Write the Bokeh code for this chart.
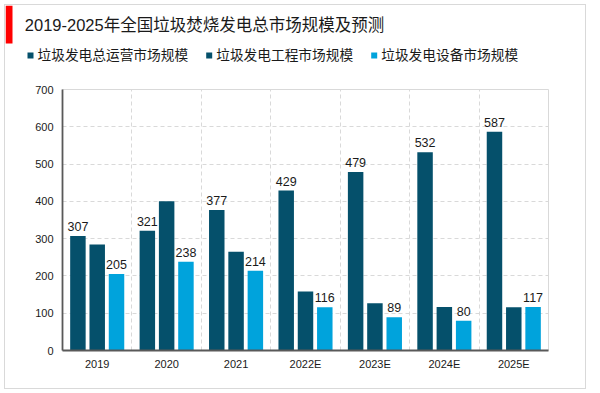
from bokeh.plotting import figure
from bokeh.models import FixedTicker, Range1d
from bokeh.core.properties import value
from bokeh.embed import file_html
from bokeh.resources import INLINE

# ---- data ----
years = ["2019", "2020", "2021", "2022E", "2023E", "2024E", "2025E"]
operation = [307, 321, 377, 429, 479, 532, 587]
engineering = [284, 400, 265, 158, 127, 117, 116]
equipment = [205, 238, 214, 116, 89, 80, 117]
series_names = ["垃圾发电总运营市场规模", "垃圾发电工程市场规模", "垃圾发电设备市场规模"]
title_text = "2019-2025年全国垃圾焚烧发电总市场规模及预测"
y_ticks = [0, 100, 200, 300, 400, 500, 600, 700]

# ---- style ----
CW = 582            # canvas width inside the outer box
TOP_H = 75          # header canvas height
BOT_H = 310         # chart canvas height
LAT = "Liberation Sans, Noto Sans CJK SC"
DARK = "#05506B"
DARK2 = "#05506B"
LIGHT = "#00A3DC"
TXT = "#1a1a1a"
BOX = "1px solid #d9d9d9"
colors = [DARK, DARK2, LIGHT]
LEG_FS = 13.7

# ---------------- header (title + legend) ----------------
head = figure(width=CW, height=TOP_H, output_backend="svg", toolbar_location=None,
              x_range=Range1d(0, CW), y_range=Range1d(TOP_H, 0),
              x_axis_type=None, y_axis_type=None,
              min_border=0, min_border_left=0, min_border_right=0,
              min_border_top=0, min_border_bottom=0,
              margin=(4, 0, 0, 4),
              styles={"border-top": BOX, "border-left": BOX, "border-right": BOX})
head.outline_line_color = None
head.grid.visible = False
head.background_fill_color = "white"
head.border_fill_color = "white"

# red accent bar
head.quad(left=[0], right=[7], top=[0], bottom=[38], fill_color="#FF0000", line_color=None)
# title
head.text(x=[19.3], y=[19.5], text=[title_text], text_baseline="middle",
          text_align="left", text_font=value(LAT), text_font_size="16.5px",
          text_color=TXT)
# legend: colour swatch + label for each series
mx, leg_y = 22.0, 50.0
sw_x, lab_x = [], []
for nm in series_names:
    sw_x.append(mx + 3)
    lab_x.append(mx + 10)
    mx += 10 + len(nm) * LEG_FS + 18
head.rect(x=sw_x, y=[leg_y] * 3, width=6, height=6, fill_color=colors, line_color=None)
head.text(x=lab_x, y=[leg_y] * 3, text=series_names, text_baseline="middle",
          text_align="left", text_font=value(LAT), text_font_size=f"{LEG_FS}px",
          text_color=TXT)

# ---------------- chart ----------------
n = len(years)
centers = [i + 0.5 for i in range(n)]
offset = 0.278
bw = 0.223

p = figure(width=CW, height=BOT_H, output_backend="svg", toolbar_location=None,
           x_range=(0, n), y_range=(0, 700),
           min_border_left=57, min_border_right=39,
           min_border_top=10, min_border_bottom=39,
           margin=(0, 0, 0, 4),
           styles={"border-bottom": BOX, "border-left": BOX, "border-right": BOX})
p.background_fill_color = "white"
p.border_fill_color = "white"
p.outline_line_color = "#d9d9d9"
p.outline_line_width = 1

xs1 = [c - offset for c in centers]
xs2 = centers
xs3 = [c + offset for c in centers]

p.vbar(x=xs1, top=operation, width=bw, fill_color=DARK, line_color=None)
p.vbar(x=xs2, top=engineering, width=bw, fill_color=DARK2, line_color=None)
p.vbar(x=xs3, top=equipment, width=bw, fill_color=LIGHT, line_color=None)

for xs, vals in ((xs1, operation), (xs3, equipment)):
    p.text(x=xs, y=vals, text=[str(v) for v in vals],
           text_align="center", text_baseline="bottom", y_offset=-5,
           text_font=value(LAT), text_font_size="12.5px", text_color=TXT)

p.xaxis.ticker = FixedTicker(ticks=centers)
p.xaxis.major_label_overrides = {c: y for c, y in zip(centers, years)}
p.yaxis.ticker = FixedTicker(ticks=y_ticks)
for ax in (p.xaxis[0], p.yaxis[0]):
    ax.axis_line_color = "#595959"
    ax.axis_line_width = 1.8
    ax.major_tick_line_color = None
    ax.minor_tick_line_color = None
    ax.major_tick_out = 0
    ax.major_tick_in = 0
    ax.minor_tick_out = 0
    ax.major_label_text_font = LAT
    ax.major_label_text_font_size = "11px"
    ax.major_label_text_color = TXT
p.yaxis.major_label_standoff = 9
p.xaxis.major_label_standoff = 7

p.ygrid.ticker = FixedTicker(ticks=y_ticks)
p.ygrid.grid_line_color = "#d9d9d9"
p.ygrid.grid_line_dash = "4 3"
p.xgrid.ticker = FixedTicker(ticks=list(range(1, n)))
p.xgrid.grid_line_color = "#d9d9d9"
p.xgrid.grid_line_dash = "4 3"

open("out.html", "w").write(file_html([head, p], INLINE))
